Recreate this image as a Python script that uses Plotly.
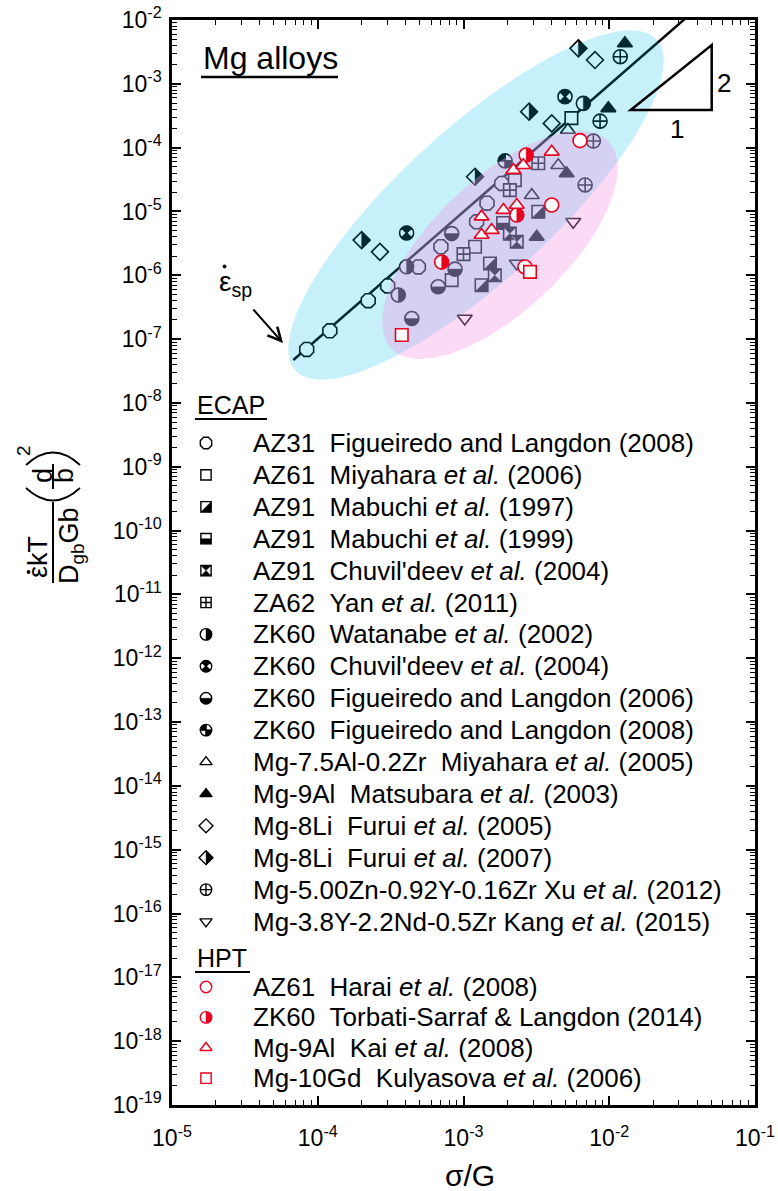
import math
import numpy as np
import plotly.graph_objects as go

# ---------------- data (sigma/G , normalised strain rate) -------------
AZ31_FIG08_X = [8.4e-5, 1.21e-4, 2.22e-4, 3.02e-4, 4.9e-4, 7.0e-4, 1.23e-3, 1.45e-3, 1.83e-3]
AZ31_FIG08_Y = [6.9e-8, 1.35e-7, 4.0e-7, 6.8e-7, 1.35e-6, 2.8e-6, 6.9e-6, 1.35e-5, 2.75e-5]
AZ61_MIY_X = [8.3e-4, 1.2e-3, 2.25e-3, 5.5e-3]
AZ61_MIY_Y = [8.4e-7, 2.8e-6, 3.1e-5, 2.9e-4]
AZ91_MAB97_X = [1.33e-3, 1.52e-3, 3.26e-3]
AZ91_MAB97_Y = [7.0e-7, 1.53e-6, 9.9e-6]
AZ91_MAB99_X = [1.87e-3]
AZ91_MAB99_Y = [6.6e-6]
AZ91_CHU_X = [1.64e-3, 2.08e-3, 2.32e-3]
AZ91_CHU_Y = [1.0e-6, 4.5e-6, 3.35e-6]
ZA62_YAN_X = [1.0e-3, 2.08e-3, 3.26e-3]
ZA62_YAN_Y = [2.15e-6, 2.16e-5, 5.7e-5]
ZK60_WAT_X = [3.57e-4, 4.07e-4, 6.64e-3]
ZK60_WAT_Y = [4.9e-7, 1.36e-6, 4.94e-4]
ZK60_CHU_X = [4.07e-4, 4.97e-3]
ZK60_CHU_Y = [4.6e-6, 6.3e-4]
ZK60_FIG06_X = [4.42e-4, 6.7e-4, 8.75e-4, 8.3e-4]
ZK60_FIG06_Y = [2.1e-7, 6.6e-7, 1.25e-6, 4.5e-6]
ZK60_FIG08_X = [1.93e-3]
ZK60_FIG08_Y = [6.2e-5]
MG75AL_MIY_X = [2.94e-3, 4.47e-3, 5.2e-3]
MG75AL_MIY_Y = [1.8e-5, 5.3e-5, 1.89e-4]
MG9AL_MAT_X = [3.18e-3, 5.1e-3, 9.86e-3, 1.28e-2]
MG9AL_MAT_Y = [4.0e-6, 3.95e-5, 4.13e-4, 4.3e-3]
MG8LI_FUR05_X = [2.67e-4, 4.03e-3, 7.98e-3]
MG8LI_FUR05_Y = [2.33e-6, 2.4e-4, 2.36e-3]
MG8LI_FUR07_X = [2.0e-4, 1.2e-3, 2.82e-3, 6.14e-3]
MG8LI_FUR07_Y = [3.56e-6, 3.5e-5, 3.66e-4, 3.6e-3]
MG5ZN_XU_X = [6.83e-3, 7.78e-3, 8.65e-3, 1.19e-2]
MG5ZN_XU_Y = [2.6e-5, 1.27e-4, 2.6e-4, 2.66e-3]
MG38Y_KANG_X = [1.02e-3, 2.32e-3, 5.66e-3]
MG38Y_KANG_Y = [2.1e-7, 1.53e-6, 6.9e-6]
# HPT
AZ61_HAR_X = [2.64e-3, 4.03e-3, 6.3e-3]
AZ61_HAR_Y = [1.35e-6, 1.26e-5, 1.29e-4]
ZK60_TOR_X = [7.08e-4, 2.32e-3, 2.69e-3]
ZK60_TOR_Y = [1.61e-6, 8.8e-6, 7.65e-5]
MG9AL_KAI_X = [1.33e-3, 1.33e-3, 1.56e-3, 1.88e-3, 2.32e-3, 2.2e-3, 2.57e-3, 4.03e-3]
MG9AL_KAI_Y = [4.27e-6, 8.3e-6, 5.1e-6, 1.05e-5, 1.26e-5, 4.45e-5, 5.3e-5, 8.6e-5]
MG10GD_KUL_X = [3.77e-4, 2.86e-3]
MG10GD_KUL_Y = [1.16e-7, 1.13e-6]

# superplastic line (slope 2)
LINE_X = [6.8e-5, 3.3e-2]
LINE_Y = [4.7e-8, 1.04e-2]

ECAP_LABELS = [
    "AZ31\u00a0\u00a0Figueiredo and Langdon (2008)",
    "AZ61\u00a0\u00a0Miyahara <i>et al.</i> (2006)",
    "AZ91\u00a0\u00a0Mabuchi <i>et al.</i> (1997)",
    "AZ91\u00a0\u00a0Mabuchi <i>et al.</i> (1999)",
    "AZ91\u00a0\u00a0Chuvil'deev <i>et al.</i> (2004)",
    "ZA62\u00a0\u00a0Yan <i>et al.</i> (2011)",
    "ZK60\u00a0\u00a0Watanabe <i>et al.</i> (2002)",
    "ZK60\u00a0\u00a0Chuvil'deev <i>et al.</i> (2004)",
    "ZK60\u00a0\u00a0Figueiredo and Langdon (2006)",
    "ZK60\u00a0\u00a0Figueiredo and Langdon (2008)",
    "Mg-7.5Al-0.2Zr\u00a0\u00a0Miyahara <i>et al.</i> (2005)",
    "Mg-9Al\u00a0\u00a0Matsubara <i>et al.</i> (2003)",
    "Mg-8Li\u00a0\u00a0Furui <i>et al.</i> (2005)",
    "Mg-8Li\u00a0\u00a0Furui <i>et al.</i> (2007)",
    "Mg-5.00Zn-0.92Y-0.16Zr Xu <i>et al.</i> (2012)",
    "Mg-3.8Y-2.2Nd-0.5Zr Kang <i>et al.</i> (2015)",
]
HPT_LABELS = [
    "AZ61\u00a0\u00a0Harai <i>et al.</i> (2008)",
    "ZK60\u00a0\u00a0Torbati-Sarraf &amp; Langdon (2014)",
    "Mg-9Al\u00a0\u00a0Kai <i>et al.</i> (2008)",
    "Mg-10Gd\u00a0\u00a0Kulyasova <i>et al.</i> (2006)",
]

X_TICKS = [1e-5, 1e-4, 1e-3, 1e-2, 1e-1]
X_TICKTEXT = ["10<sup>-5</sup>", "10<sup>-4</sup>", "10<sup>-3</sup>", "10<sup>-2</sup>", "10<sup>-1</sup>"]
Y_EXPS = list(range(-19, -1))
Y_TICKS = [10.0 ** e for e in Y_EXPS]
Y_TICKTEXT = ["10<sup>%d</sup>" % e for e in Y_EXPS]

# ---------------- styles ----------------
BLACK = "#000000"
RED = "#e8001e"
SERIES = [
    dict(x=AZ31_FIG08_X, y=AZ31_FIG08_Y, sym="octagon", fill=None, c=BLACK),
    dict(x=AZ61_MIY_X, y=AZ61_MIY_Y, sym="square", fill=None, c=BLACK),
    dict(x=AZ91_MAB97_X, y=AZ91_MAB97_Y, sym="square", fill="sq_lr", c=BLACK),
    dict(x=AZ91_MAB99_X, y=AZ91_MAB99_Y, sym="square", fill="sq_bot", c=BLACK),
    dict(x=AZ91_CHU_X, y=AZ91_CHU_Y, sym="square", fill="sq_hg", c=BLACK),
    dict(x=ZA62_YAN_X, y=ZA62_YAN_Y, sym="square-cross", fill=None, c=BLACK),
    dict(x=ZK60_WAT_X, y=ZK60_WAT_Y, sym="circle", fill="c_right", c=BLACK),
    dict(x=ZK60_CHU_X, y=ZK60_CHU_Y, sym="circle-x", fill="c_hg", c=BLACK),
    dict(x=ZK60_FIG06_X, y=ZK60_FIG06_Y, sym="circle", fill="c_bot", c=BLACK),
    dict(x=ZK60_FIG08_X, y=ZK60_FIG08_Y, sym="circle-cross", fill="c_quad", c=BLACK),
    dict(x=MG75AL_MIY_X, y=MG75AL_MIY_Y, sym="triangle-up", fill=None, c=BLACK),
    dict(x=MG9AL_MAT_X, y=MG9AL_MAT_Y, sym="triangle-up", fill="solid", c=BLACK),
    dict(x=MG8LI_FUR05_X, y=MG8LI_FUR05_Y, sym="diamond", fill=None, c=BLACK),
    dict(x=MG8LI_FUR07_X, y=MG8LI_FUR07_Y, sym="diamond", fill="d_right", c=BLACK),
    dict(x=MG5ZN_XU_X, y=MG5ZN_XU_Y, sym="circle-cross", fill=None, c=BLACK),
    dict(x=MG38Y_KANG_X, y=MG38Y_KANG_Y, sym="triangle-down", fill=None, c=BLACK),
    dict(x=AZ61_HAR_X, y=AZ61_HAR_Y, sym="circle", fill=None, c=RED),
    dict(x=ZK60_TOR_X, y=ZK60_TOR_Y, sym="circle", fill="c_right", c=RED),
    dict(x=MG9AL_KAI_X, y=MG9AL_KAI_Y, sym="triangle-up", fill=None, c=RED),
    dict(x=MG10GD_KUL_X, y=MG10GD_KUL_Y, sym="square", fill=None, c=RED),
]
SIZE = {"octagon": 15, "square": 12.5, "square-cross": 12.5, "circle": 14, "circle-x": 14,
        "circle-cross": 14, "triangle-up": 13, "triangle-down": 13, "diamond": 13}

# ---------------- layout geometry ----------------
W, H = 778, 1191
L, R, T, B = 172, 755, 20, 1105
XDEC = (R - L) / 4.0     # px per decade
YDEC = (B - T) / 17.0
FONT = "Arial, Liberation Sans, Arimo, sans-serif"


def pxp(xpix):
    return (xpix - L) / (R - L)


def pyp(ypix):
    return (B - ypix) / (B - T)


def glyph_polys(kind, size):
    r = size / 2.0

    def arcp(a0, a1, n=15):
        return [(r * math.cos(math.radians(a)), r * math.sin(math.radians(a))) for a in np.linspace(a0, a1, n)]
    if kind == "sq_lr":
        return [[(-r, -r), (r, -r), (r, r)]]
    if kind == "sq_bot":
        return [[(-r, -r), (r, -r), (r, 0), (-r, 0)]]
    if kind == "sq_hg":
        return [[(-r, r), (r, r), (0, 0)], [(-r, -r), (r, -r), (0, 0)]]
    if kind == "c_right":
        return [arcp(-90, 90)]
    if kind == "c_bot":
        return [arcp(180, 360)]
    if kind == "c_hg":
        return [[(0, 0)] + arcp(45, 135), [(0, 0)] + arcp(225, 315)]
    if kind == "c_quad":
        return [[(0, 0)] + arcp(90, 180), [(0, 0)] + arcp(270, 360)]
    if kind == "d_right":
        rd = 1.3 * r
        return [[(0, rd), (rd, 0), (0, -rd)]]
    return []


def data_fill(xs, ys, kind, size):
    fx, fy = [], []
    for x0, y0 in zip(xs, ys):
        for poly in glyph_polys(kind, size):
            for dx, dy in poly + [poly[0]]:
                fx.append(x0 * 10 ** (dx / XDEC))
                fy.append(y0 * 10 ** (dy / YDEC))
            fx.append(None)
            fy.append(None)
    return fx, fy


def paper_fill(xp, yp, kind, size):
    fx, fy = [], []
    for poly in glyph_polys(kind, size):
        for dx, dy in poly + [poly[0]]:
            fx.append(xp + dx / (R - L))
            fy.append(yp + dy / (B - T))
        fx.append(None)
        fy.append(None)
    return fx, fy


def ellipse_xy(cx, cy, a, b, ang_deg, n=240):
    X0 = L + (math.log10(cx) + 5) * XDEC
    Y0 = T + (-2 - math.log10(cy)) * YDEC
    th = math.radians(ang_deg)
    t = np.linspace(0, 2 * np.pi, n)
    X = X0 + a * np.cos(t) * np.cos(th) + b * np.sin(t) * np.sin(th)
    Y = Y0 - a * np.cos(t) * np.sin(th) + b * np.sin(t) * np.cos(th)
    return list(10 ** (-5 + (X - L) / XDEC)), list(10 ** (-2 - (Y - T) / YDEC))


fig = go.Figure()


def add_series(s, xs, ys, size, xaxis="x", yaxis="y", paper=False, lw=1.6):
    solid = s["fill"] == "solid"
    fig.add_trace(go.Scatter(
        x=xs, y=ys, mode="markers", xaxis=xaxis, yaxis=yaxis, showlegend=False, hoverinfo="skip",
        marker=dict(symbol=s["sym"], size=size, color=s["c"] if solid else "white",
                    line=dict(color=s["c"], width=lw))))
    if s["fill"] and not solid:
        if paper:
            fx, fy = paper_fill(xs[0], ys[0], s["fill"], size)
        else:
            fx, fy = data_fill(xs, ys, s["fill"], size)
        fig.add_trace(go.Scatter(x=fx, y=fy, mode="lines", fill="toself", fillcolor=s["c"],
                                 line=dict(color=s["c"], width=0.4), xaxis=xaxis, yaxis=yaxis,
                                 showlegend=False, hoverinfo="skip"))


# epsilon_sp line
fig.add_trace(go.Scatter(x=LINE_X, y=LINE_Y, mode="lines", line=dict(color="black", width=2.5),
                         showlegend=False, hoverinfo="skip"))
for s in SERIES:
    if s["c"] == BLACK:
        add_series(s, s["x"], s["y"], SIZE[s["sym"]])

# highlight ellipses (screen-space ellipses drawn over the points)
ex, ey = ellipse_xy(1.218e-3, 1.263e-5, 245, 76, 42.5)
fig.add_trace(go.Scatter(x=ex, y=ey, mode="lines", fill="toself", fillcolor="rgba(0,190,230,0.22)",
                         line=dict(width=0), showlegend=False, hoverinfo="skip"))
ex, ey = ellipse_xy(1.779e-3, 2.98e-6, 150, 66, 43.6)
fig.add_trace(go.Scatter(x=ex, y=ey, mode="lines", fill="toself", fillcolor="rgba(240,149,226,0.35)",
                         line=dict(width=0), showlegend=False, hoverinfo="skip"))

for s in SERIES:
    if s["c"] == RED:
        add_series(s, s["x"], s["y"], SIZE[s["sym"]])

# ---------------- in-plot legend ----------------
annotations = []
shapes = []


def ann(text, xpix, ypix, size, xanchor="center", yanchor="middle", angle=0):
    annotations.append(dict(text=text, x=pxp(xpix), y=pyp(ypix), xref="paper", yref="paper",
                            showarrow=False, xanchor=xanchor, yanchor=yanchor, textangle=angle,
                            font=dict(size=size, family=FONT, color="black")))


def hline(x0, x1, ypix, w=2.2):
    shapes.append(dict(type="line", xref="paper", yref="paper", x0=pxp(x0), x1=pxp(x1),
                       y0=pyp(ypix), y1=pyp(ypix), line=dict(color="black", width=w)))


def vline(xpix, y0, y1, w=2.0):
    shapes.append(dict(type="line", xref="paper", yref="paper", x0=pxp(xpix), x1=pxp(xpix),
                       y0=pyp(y0), y1=pyp(y1), line=dict(color="black", width=w)))


def dot(xpix, ypix, rad=1.9):
    shapes.append(dict(type="circle", xref="paper", yref="paper", x0=pxp(xpix - rad), x1=pxp(xpix + rad),
                       y0=pyp(ypix + rad), y1=pyp(ypix - rad), fillcolor="black", line=dict(width=0)))


def arc(x0, y0, xc, yc, x1, y1, w=1.8):
    shapes.append(dict(type="path", xref="paper", yref="paper",
                       path="M%.5f,%.5f Q%.5f,%.5f %.5f,%.5f" % (pxp(x0), pyp(y0), pxp(xc), pyp(yc),
                                                                pxp(x1), pyp(y1)),
                       line=dict(color="black", width=w)))


LEG_MX, LEG_TX, LEG_HX = 206, 251, 195
LEG_FONT = 26
ann("ECAP", LEG_HX, 405, 25, "left")
hline(195, 267, 419)
for i, lab in enumerate(ECAP_LABELS):
    yy = 443 + i * 31.9
    s = SERIES[i]
    add_series(s, [pxp(LEG_MX)], [pyp(yy)], SIZE[s["sym"]] * 0.82, "x2", "y2", paper=True, lw=1.4)
    ann(lab, LEG_TX, yy, LEG_FONT, "left")
ann("HPT", LEG_HX, 958, 25, "left")
hline(195, 250, 972)
for i, lab in enumerate(HPT_LABELS):
    yy = 987 + i * 30.4
    s = SERIES[16 + i]
    add_series(s, [pxp(LEG_MX)], [pyp(yy)], SIZE[s["sym"]] * 0.82, "x2", "y2", paper=True, lw=1.4)
    ann(lab, LEG_TX, yy, LEG_FONT, "left")

# title block
ann("Mg alloys", 201, 58, 32, "left")
hline(201, 338, 77, 2.5)

# epsilon_sp label and arrow
ann("\u03b5<sub>sp</sub>", 217, 283, 28, "left")
dot(224.5, 266.5)
annotations.append(dict(x=pxp(283), y=pyp(343), xref="paper", yref="paper", ax=-31, ay=-35,
                        text="", showarrow=True, arrowhead=5, arrowsize=1.3, arrowwidth=2,
                        arrowcolor="black"))

# slope triangle
shapes.append(dict(type="path", xref="paper", yref="paper",
                   path="M%.5f,%.5f L%.5f,%.5f L%.5f,%.5f Z" % (pxp(630.7), pyp(110), pxp(711.7), pyp(45),
                                                               pxp(711.7), pyp(110)),
                   line=dict(color="black", width=2.5)))
ann("2", 724, 83, 26)
ann("1", 677, 129, 26)

# axis titles
ann("\u03c3/G", 470, 1175, 30)
# y title:  (eps_dot kT / D_gb G b) (d/b)^2, rotated
ann("\u03b5kT", 38, 557, 27, angle=-90)
dot(28.5, 572)
ann("D<sub>gb</sub>Gb", 71, 546, 27, angle=-90)
vline(53, 502, 583)
ann("d", 43, 476, 27, angle=-90)
ann("b", 64, 476, 27, angle=-90)
vline(53, 464, 489)
arc(26, 465, 53, 440, 80, 465)
arc(26, 488, 53, 513, 80, 488)
ann("2", 24, 451, 19, angle=-90)


def minor_vals(lo, hi):
    return [k * 10.0 ** e for e in range(lo, hi) for k in range(2, 10)]


axis_common = dict(type="log", showgrid=False, zeroline=False, showline=True, linecolor="black",
                   linewidth=2.5, mirror="ticks", ticks="inside", ticklen=9, tickwidth=2,
                   tickcolor="black", tickmode="array",
                   tickfont=dict(size=23, family=FONT, color="black"))
fig.update_layout(
    width=W, height=H, margin=dict(l=L, r=W - R, t=T, b=H - B, autoexpand=False),
    paper_bgcolor="white", plot_bgcolor="white", showlegend=False,
    xaxis=dict(axis_common, range=[-5, -1], tickvals=X_TICKS, ticktext=X_TICKTEXT, ticklabelstandoff=11,
               minor=dict(tickmode="array", tickvals=minor_vals(-5, -1), ticks="inside", ticklen=5,
                          tickwidth=1.3, tickcolor="black", showgrid=False)),
    yaxis=dict(axis_common, range=[-19, -2], tickvals=Y_TICKS, ticktext=Y_TICKTEXT, ticklabelstandoff=3,
               minor=dict(tickmode="array", tickvals=minor_vals(-19, -2), ticks="inside", ticklen=5,
                          tickwidth=1.3, tickcolor="black", showgrid=False)),
    xaxis2=dict(overlaying="x", range=[0, 1], visible=False),
    yaxis2=dict(overlaying="y", range=[0, 1], visible=False),
    annotations=annotations, shapes=shapes,
    font=dict(family=FONT, color="black"),
)
fig.update_xaxes(automargin=False, selector=dict(type="log"))
fig.update_yaxes(automargin=False, selector=dict(type="log"))
fig.write_html("out.html")
